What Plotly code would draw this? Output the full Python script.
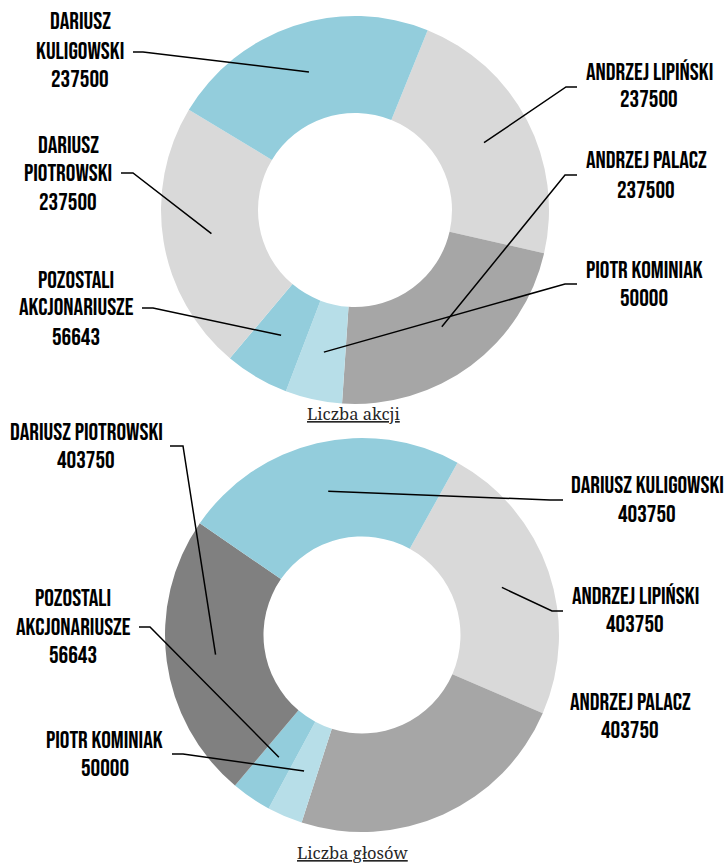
import math
import plotly.graph_objects as go

# ---------------- data ----------------
names = ["Andrzej Lipiński", "Andrzej Palacz", "Piotr Kominiak",
         "Pozostali akcjonariusze", "Dariusz Piotrowski", "Dariusz Kuligowski"]
shares = [237500, 237500, 50000, 56643, 237500, 237500]      # Liczba akcji
votes = [403750, 403750, 50000, 56643, 403750, 403750]       # Liczba głosów
colors_top = ["#D9D9D9", "#A6A6A6", "#B7DEE8", "#93CDDC", "#D9D9D9", "#93CDDC"]
colors_bottom = ["#D9D9D9", "#A6A6A6", "#B7DEE8", "#93CDDC", "#808080", "#93CDDC"]
titles = ["Liczba akcji", "Liczba głosów"]

W, H = 726, 864
HOLE = 0.5
LABEL_FONT = "Bebas Neue, Oswald, Roboto Condensed, sans-serif"
TITLE_FONT = "Noto Serif, DejaVu Serif, Liberation Serif, serif"

# geometry of each donut (pixel centre, radius, start rotation)
charts = [
    dict(values=shares, colors=colors_top, cx=355, cy=210, r=194, rot=22, title=titles[0], ty=413),
    dict(values=votes, colors=colors_bottom, cx=362, cy=635, r=197, rot=29, title=titles[1], ty=852),
]

# label layout: slice index, text lines, centre x, line y's, tick (x_from, x_to, y) or None
labels = [
    [  # top
        (5, ["DARIUSZ", "KULIGOWSKI"], 80, [22, 51, 80], (133, 143, 52)),
        (4, ["DARIUSZ", "PIOTROWSKI"], 68, [145, 173, 202], (121, 133, 173)),
        (3, ["POZOSTALI", "AKCJONARIUSZE"], 76, [280, 308, 337], (142, 153, 308)),
        (0, ["ANDRZEJ LIPIŃSKI"], 649, [72, 100], (577, 566, 87)),
        (1, ["ANDRZEJ PALACZ"], 646, [161, 190], (577, 565, 175)),
        (2, ["PIOTR KOMINIAK"], 644, [270, 298], (577, 565, 284)),
    ],
    [  # bottom
        (4, ["DARIUSZ PIOTROWSKI"], 86, [432, 461], (170, 183, 446)),
        (3, ["POZOSTALI", "AKCJONARIUSZE"], 73, [598, 627, 655], (139, 150, 627)),
        (2, ["PIOTR KOMINIAK"], 105, [740, 768], (172, 183, 754)),
        (5, ["DARIUSZ KULIGOWSKI"], 647, [485, 514], (563, 550, 500)),
        (0, ["ANDRZEJ LIPIŃSKI"], 635, [596, 624], (563, 552, 611)),
        (1, ["ANDRZEJ PALACZ"], 630, [702, 730], None),
    ],
]


def px(x):
    return x / W


def py(y):
    return 1 - y / H


fig = go.Figure()

for ci, ch in enumerate(charts):
    cx, cy, r = ch["cx"], ch["cy"], ch["r"]
    fig.add_trace(go.Pie(
        labels=names, values=ch["values"], hole=HOLE, sort=False,
        direction="clockwise", rotation=ch["rot"],
        marker=dict(colors=ch["colors"], line=dict(width=0)),
        textinfo="none", hoverinfo="label+value", showlegend=False,
        domain=dict(x=[px(cx - 300), px(cx + 300)], y=[py(cy + r), py(cy - r)]),
    ))
    # mid-angle anchor of each slice, from the data
    vals = ch["values"]
    total = sum(vals)
    cum = 0
    anchors = []
    rm = r * (1 + HOLE) / 2
    for v in vals:
        ang = math.radians(ch["rot"] + 360 * (cum + v / 2) / total)
        anchors.append((cx + rm * math.sin(ang), cy - rm * math.cos(ang)))
        cum += v

    for idx, lines, lx, ys, tick in labels[ci]:
        txt_lines = lines + [str(vals[idx])]
        for t, yy in zip(txt_lines, ys):
            fig.add_annotation(x=px(lx), y=py(yy), xref="paper", yref="paper",
                               text=t, showarrow=False, xanchor="center", yanchor="middle",
                               font=dict(family=LABEL_FONT, size=24, color="#000000"))
        if tick is not None:
            x0, x1, ty = tick
            ax, ay = anchors[idx]
            fig.add_shape(type="path", xref="paper", yref="paper",
                          path=f"M {px(x0)} {py(ty)} L {px(x1)} {py(ty)} L {px(ax)} {py(ay)}",
                          line=dict(color="#000000", width=1.5))

    fig.add_annotation(x=px(353), y=py(ch["ty"]), xref="paper", yref="paper",
                       text=f"<u>{ch['title']}</u>", showarrow=False,
                       xanchor="center", yanchor="middle",
                       font=dict(family=TITLE_FONT, size=16.5, color="#262626"))

fig.update_layout(width=W, height=H, margin=dict(l=0, r=0, t=0, b=0),
                  paper_bgcolor="white", plot_bgcolor="white")
# remove the browser's default 8px body margin so the figure fills the window
fig.write_html("out.html", config={"displayModeBar": False},
               post_script="document.body.style.margin='0';document.body.style.overflow='hidden';")
